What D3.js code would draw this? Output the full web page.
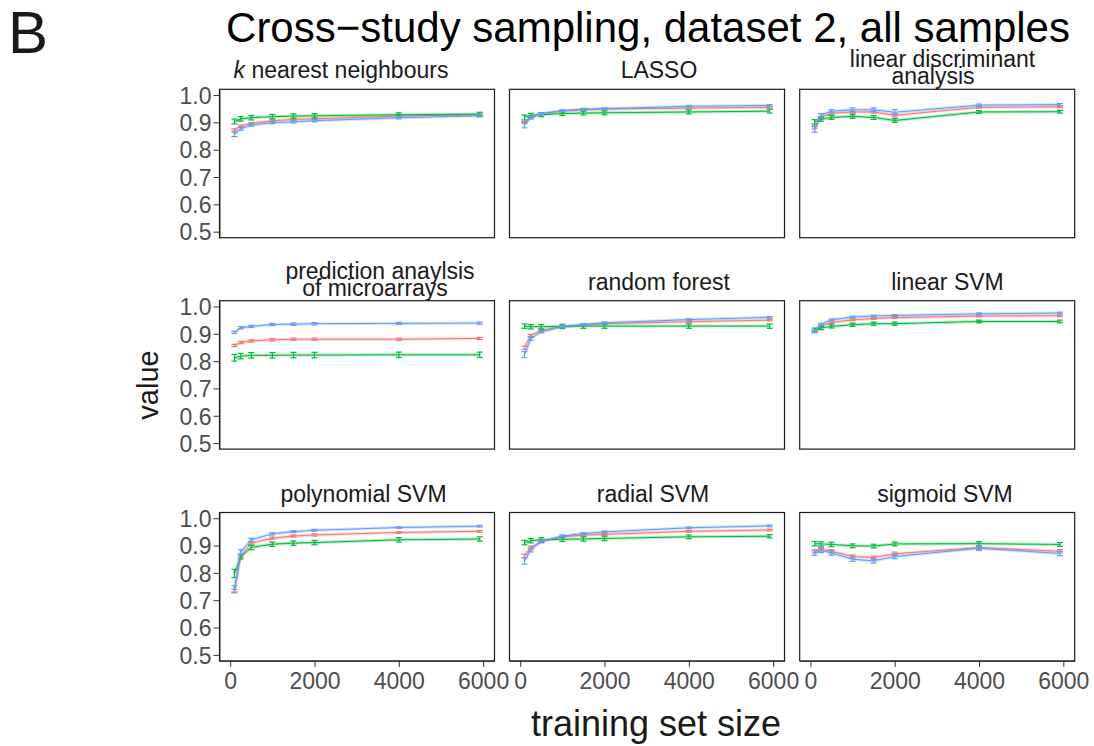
<!DOCTYPE html>
<html><head><meta charset="utf-8">
<script src="https://cdn.jsdelivr.net/npm/d3@7"></script>
<style>body{margin:0;background:#fff}svg{display:block;font-family:"Liberation Sans",Arial,Helvetica,sans-serif}</style>
</head><body><svg id="c" width="1094" height="746"></svg>
<script>
// ---- data ----
const trainingSizes = [100, 250, 500, 1000, 1500, 2000, 4000, 5920];
const classifiers = ["k nearest neighbours","LASSO","linear discriminant analysis","prediction anaylsis of microarrays","random forest","linear SVM","polynomial SVM","radial SVM","sigmoid SVM"];
const seriesNames = ["red","green","blue"];
const knnRed   = [0.872,0.887,0.896,0.906,0.911,0.913,0.923,0.928];
const knnGreen = [0.903,0.913,0.917,0.921,0.923,0.924,0.928,0.930];
const knnBlue  = [0.856,0.876,0.890,0.899,0.902,0.906,0.917,0.924];
const lassoRed   = [0.900,0.918,0.932,0.941,0.946,0.949,0.952,0.955];
const lassoGreen = [0.918,0.926,0.928,0.932,0.934,0.935,0.938,0.941];
const lassoBlue  = [0.890,0.917,0.932,0.943,0.948,0.950,0.959,0.962];
const ldaRed   = [0.882,0.918,0.933,0.938,0.938,0.926,0.955,0.957];
const ldaGreen = [0.902,0.911,0.918,0.922,0.918,0.907,0.938,0.939];
const ldaBlue  = [0.874,0.926,0.941,0.946,0.946,0.937,0.963,0.965];
const pamRed   = [0.857,0.868,0.874,0.878,0.880,0.880,0.880,0.883];
const pamGreen = [0.812,0.818,0.821,0.821,0.822,0.822,0.823,0.823];
const pamBlue  = [0.905,0.922,0.927,0.934,0.935,0.937,0.938,0.939];
const rfRed   = [0.849,0.894,0.913,0.926,0.932,0.937,0.944,0.950];
const rfGreen = [0.928,0.926,0.926,0.927,0.928,0.928,0.928,0.928];
const rfBlue  = [0.824,0.882,0.907,0.926,0.934,0.940,0.952,0.960];
const linRed   = [0.910,0.928,0.941,0.951,0.956,0.959,0.965,0.966];
const linGreen = [0.915,0.921,0.927,0.933,0.937,0.937,0.945,0.945];
const linBlue  = [0.907,0.934,0.951,0.961,0.965,0.967,0.973,0.976];
const polyRed   = [0.735,0.862,0.909,0.927,0.935,0.939,0.948,0.952];
const polyGreen = [0.798,0.859,0.893,0.905,0.909,0.911,0.921,0.924];
const polyBlue  = [0.740,0.877,0.921,0.943,0.951,0.956,0.966,0.971];
const radRed   = [0.862,0.893,0.915,0.932,0.938,0.941,0.952,0.957];
const radGreen = [0.911,0.918,0.921,0.923,0.924,0.926,0.932,0.934];
const radBlue  = [0.844,0.884,0.915,0.935,0.944,0.950,0.965,0.972];
const sigRed   = [0.879,0.887,0.879,0.860,0.856,0.870,0.893,0.879];
const sigGreen = [0.907,0.906,0.904,0.899,0.898,0.906,0.907,0.904];
const sigBlue  = [0.872,0.882,0.873,0.850,0.844,0.860,0.890,0.871];
// error half-widths: [red, green, blue]
const knnErr   = [[0.004,0.003,0.003,0.003,0.003,0.003,0.003,0.003],[0.009,0.008,0.008,0.008,0.008,0.008,0.007,0.007],[0.008,0.005,0.004,0.004,0.004,0.004,0.004,0.004]];
const lassoErr = [[0.004,0.003,0.003,0.003,0.003,0.003,0.003,0.003],[0.009,0.007,0.007,0.007,0.007,0.007,0.007,0.007],[0.010,0.005,0.004,0.003,0.003,0.003,0.003,0.003]];
const ldaErr   = [[0.006,0.004,0.004,0.004,0.004,0.006,0.003,0.003],[0.008,0.007,0.007,0.007,0.007,0.007,0.005,0.005],[0.010,0.006,0.005,0.007,0.007,0.010,0.004,0.004]];
const pamErr   = [[0.004,0.004,0.004,0.004,0.004,0.004,0.004,0.004],[0.012,0.010,0.010,0.010,0.010,0.010,0.010,0.010],[0.004,0.004,0.004,0.004,0.004,0.004,0.004,0.004]];
const rfErr    = [[0.006,0.004,0.003,0.003,0.003,0.003,0.003,0.003],[0.008,0.008,0.008,0.008,0.008,0.008,0.008,0.008],[0.011,0.006,0.004,0.003,0.003,0.003,0.003,0.003]];
const linErr   = [[0.004,0.004,0.003,0.003,0.003,0.003,0.003,0.003],[0.006,0.006,0.006,0.006,0.006,0.006,0.005,0.005],[0.004,0.004,0.003,0.003,0.003,0.003,0.003,0.003]];
const polyErr  = [[0.005,0.005,0.004,0.004,0.004,0.004,0.003,0.003],[0.015,0.008,0.008,0.008,0.008,0.008,0.008,0.008],[0.013,0.008,0.006,0.004,0.003,0.003,0.003,0.003]];
const radErr   = [[0.006,0.005,0.004,0.003,0.003,0.003,0.003,0.003],[0.008,0.008,0.008,0.008,0.008,0.008,0.007,0.006],[0.012,0.007,0.005,0.004,0.003,0.003,0.003,0.003]];
const sigErr   = [[0.006,0.006,0.006,0.006,0.006,0.006,0.006,0.006],[0.008,0.008,0.008,0.007,0.007,0.007,0.007,0.007],[0.008,0.008,0.008,0.008,0.008,0.008,0.008,0.008]];
const xTicks = [0, 2000, 4000, 6000];
const yTicks = [0.5, 0.6, 0.7, 0.8, 0.9, 1.0];

const panelValues = [
  [knnRed, knnGreen, knnBlue],[lassoRed, lassoGreen, lassoBlue],[ldaRed, ldaGreen, ldaBlue],
  [pamRed, pamGreen, pamBlue],[rfRed, rfGreen, rfBlue],[linRed, linGreen, linBlue],
  [polyRed, polyGreen, polyBlue],[radRed, radGreen, radBlue],[sigRed, sigGreen, sigBlue]];
const panelErrors = [knnErr, lassoErr, ldaErr, pamErr, rfErr, linErr, polyErr, radErr, sigErr];

// ---- layout / style ----
const colors = ["#F8766D","#00BA38","#619CFF"];
const colLeft = [219.5, 509.5, 799.7];
const rowTop = [89.3, 300.7, 512.5];
const pw = 275, ph = 148.4;
const stripLines = [["k nearest neighbours"],["LASSO"],["linear discriminant","analysis"],
  ["prediction anaylsis","of microarrays"],["random forest"],["linear SVM"],
  ["polynomial SVM"],["radial SVM"],["sigmoid SVM"]];
const stripCx = [[341],[659],[942.5,933],[380,375],[659],[947.5],[363.5],[653],[945]];

const svg = d3.select("#c");
const x = d3.scaleLinear().domain([-254, 6270]).range([0, pw]);
const y = d3.scaleLinear().domain([0.478, 1.021]).range([ph, 0]);

svg.append("text").attr("x", 8).attr("y", 53).attr("font-size", 60).attr("fill","#1a1a1a").text("B");
svg.append("text").attr("x", 648).attr("y", 42).attr("text-anchor","middle").attr("font-size", 42).attr("fill","#000").text("Cross\u2212study sampling, dataset 2, all samples");

classifiers.forEach((name, i) => {
  const r = Math.floor(i/3), c = i % 3;
  const gx = colLeft[c], gy = rowTop[r];
  const lines = stripLines[i];
  lines.forEach((ln, k) => {
    const base = lines.length === 1 ? gy - 11 : gy - 22 + k*17;
    const t = svg.append("text").attr("x", stripCx[i][k]).attr("y", base)
      .attr("text-anchor","middle").attr("font-size", 23).attr("fill","#1a1a1a");
    if (i === 0) { t.append("tspan").attr("font-style","italic").text("k"); t.append("tspan").text(" nearest neighbours"); }
    else t.text(ln);
  });
  const g = svg.append("g").attr("transform", `translate(${gx},${gy})`);
  g.append("rect").attr("width", pw).attr("height", ph).attr("fill","#fff");
  if (c === 0) {
    const ay = g.append("g").call(d3.axisLeft(y).tickValues(yTicks).tickFormat(d3.format(".1f")).tickSize(6).tickSizeOuter(0));
    ay.select(".domain").attr("stroke","#4d4d4d");
    ay.selectAll(".tick line").attr("stroke","#333");
    ay.selectAll(".tick text").attr("font-size", 23).attr("fill","#4d4d4d").attr("font-family","Liberation Sans, Arial, sans-serif").attr("x",-8).attr("dy","0.36em");
  }
  if (r === 2) {
    const ax = g.append("g").attr("transform", `translate(0,${ph})`).call(d3.axisBottom(x).tickValues(xTicks).tickFormat(d3.format("d")).tickSize(6).tickSizeOuter(0));
    ax.select(".domain").attr("stroke","#4d4d4d");
    ax.selectAll(".tick line").attr("stroke","#333");
    ax.selectAll(".tick text").attr("font-size", 23).attr("fill","#4d4d4d").attr("font-family","Liberation Sans, Arial, sans-serif").attr("y", 12);
  }
  const vals = panelValues[i], errs = panelErrors[i];
  const line = d3.line().x((d, j) => x(trainingSizes[j])).y(d => y(d));
  seriesNames.forEach((s, si) => {
    const v = vals[si], e = errs[si];
    g.append("path").attr("d", line(v)).attr("fill","none").attr("stroke", colors[si]).attr("stroke-width", 3).attr("stroke-opacity", 0.3);
    g.append("path").attr("d", line(v)).attr("fill","none").attr("stroke", colors[si]).attr("stroke-width", 1);
    const eb = g.append("g").attr("stroke", colors[si]).attr("stroke-width", 1.2);
    v.forEach((d, j) => {
      const px = x(trainingSizes[j]), y0 = y(d - e[j]), y1 = y(d + e[j]);
      eb.append("line").attr("x1", px).attr("x2", px).attr("y1", y0).attr("y2", y1);
      eb.append("line").attr("x1", px-3).attr("x2", px+3).attr("y1", y0).attr("y2", y0);
      eb.append("line").attr("x1", px-3).attr("x2", px+3).attr("y1", y1).attr("y2", y1);
    });
  });
  g.append("rect").attr("width", pw).attr("height", ph).attr("fill","none").attr("stroke","#1a1a1a").attr("stroke-width", 1.2);
});

svg.append("text").attr("x", 656).attr("y", 736).attr("text-anchor","middle").attr("font-size", 36).attr("fill","#1a1a1a").text("training set size");
svg.append("text").attr("transform","translate(158,385) rotate(-90)").attr("text-anchor","middle").attr("font-size", 29).attr("fill","#1a1a1a").text("value");
</script></body></html>
